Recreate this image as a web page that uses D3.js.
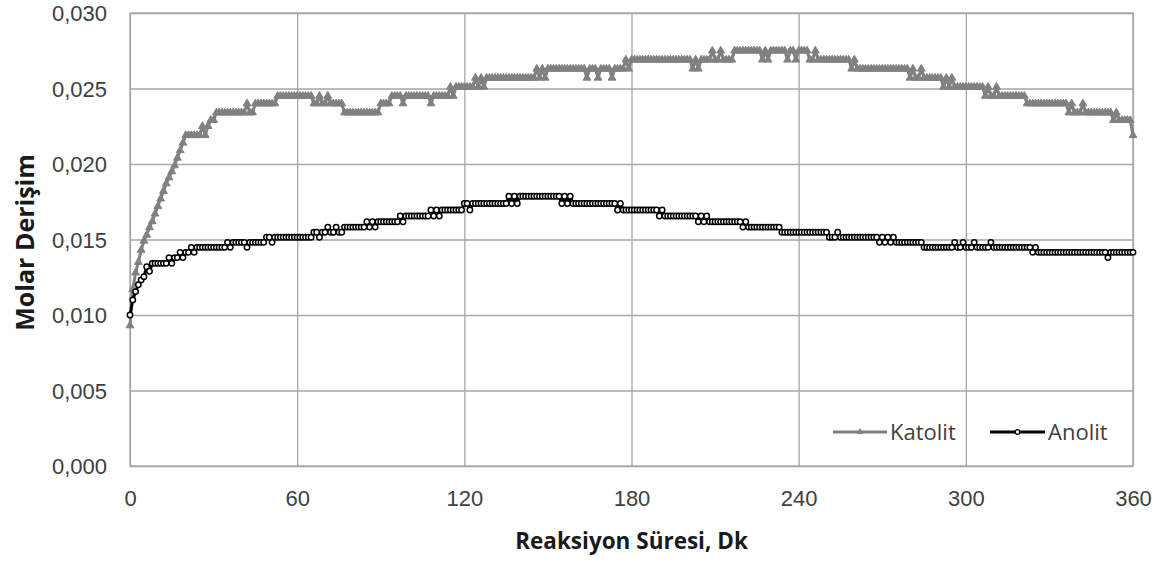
<!DOCTYPE html>
<html>
<head>
<meta charset="utf-8">
<script src="https://cdn.jsdelivr.net/npm/d3@7"></script>
<style>
  body { margin: 0; background: #fff; }
  svg text { font-family: 'Open Sans', 'Noto Sans', sans-serif; }
</style>
</head>
<body>
<svg id="chart" width="1174" height="563"></svg>
<script>
// Axis ticks
const xTicks = [0, 60, 120, 180, 240, 300, 360];
const yTicks = [0, 0.005, 0.010, 0.015, 0.020, 0.025, 0.030];

// Molar concentration sampled every minute, 0..360 min
const katolit = [
  0.0093, 0.0117, 0.0128, 0.0135, 0.0143, 0.0149, 0.0153, 0.0158, 0.0162, 0.0167,
  0.0172, 0.0177, 0.0182, 0.0187, 0.0191, 0.0195, 0.0199, 0.0204, 0.0209, 0.0214,
  0.0219, 0.0219, 0.0219, 0.0219, 0.0219, 0.0219, 0.0225, 0.0219, 0.0225, 0.0229,
  0.0229, 0.0234, 0.0234, 0.0234, 0.0234, 0.0234, 0.0234, 0.0234, 0.0234, 0.0234,
  0.0234, 0.0234, 0.0240, 0.0234, 0.0234, 0.0240, 0.0240, 0.0240, 0.0240, 0.0240,
  0.0240, 0.0240, 0.0240, 0.0245, 0.0245, 0.0245, 0.0245, 0.0245, 0.0245, 0.0245,
  0.0245, 0.0245, 0.0245, 0.0245, 0.0245, 0.0245, 0.0240, 0.0240, 0.0245, 0.0240,
  0.0240, 0.0245, 0.0240, 0.0240, 0.0240, 0.0240, 0.0240, 0.0234, 0.0234, 0.0234,
  0.0234, 0.0234, 0.0234, 0.0234, 0.0234, 0.0234, 0.0234, 0.0234, 0.0234, 0.0234,
  0.0240, 0.0240, 0.0240, 0.0240, 0.0245, 0.0245, 0.0245, 0.0245, 0.0240, 0.0245,
  0.0245, 0.0245, 0.0245, 0.0245, 0.0245, 0.0245, 0.0245, 0.0245, 0.0240, 0.0245,
  0.0245, 0.0245, 0.0245, 0.0245, 0.0245, 0.0251, 0.0245, 0.0251, 0.0251, 0.0251,
  0.0251, 0.0251, 0.0251, 0.0251, 0.0257, 0.0251, 0.0257, 0.0251, 0.0257, 0.0257,
  0.0257, 0.0257, 0.0257, 0.0257, 0.0257, 0.0257, 0.0257, 0.0257, 0.0257, 0.0257,
  0.0257, 0.0257, 0.0257, 0.0257, 0.0257, 0.0257, 0.0263, 0.0257, 0.0263, 0.0257,
  0.0263, 0.0263, 0.0263, 0.0263, 0.0263, 0.0263, 0.0263, 0.0263, 0.0263, 0.0263,
  0.0263, 0.0263, 0.0263, 0.0263, 0.0257, 0.0263, 0.0263, 0.0263, 0.0257, 0.0263,
  0.0263, 0.0263, 0.0263, 0.0257, 0.0263, 0.0263, 0.0263, 0.0263, 0.0269, 0.0263,
  0.0269, 0.0269, 0.0269, 0.0269, 0.0269, 0.0269, 0.0269, 0.0269, 0.0269, 0.0269,
  0.0269, 0.0269, 0.0269, 0.0269, 0.0269, 0.0269, 0.0269, 0.0269, 0.0269, 0.0269,
  0.0269, 0.0269, 0.0263, 0.0269, 0.0263, 0.0269, 0.0269, 0.0269, 0.0269, 0.0275,
  0.0269, 0.0269, 0.0275, 0.0269, 0.0269, 0.0269, 0.0269, 0.0275, 0.0275, 0.0275,
  0.0275, 0.0275, 0.0275, 0.0275, 0.0275, 0.0275, 0.0275, 0.0269, 0.0275, 0.0269,
  0.0275, 0.0275, 0.0275, 0.0275, 0.0275, 0.0275, 0.0269, 0.0275, 0.0275, 0.0269,
  0.0275, 0.0275, 0.0275, 0.0275, 0.0269, 0.0269, 0.0275, 0.0269, 0.0269, 0.0269,
  0.0269, 0.0269, 0.0269, 0.0269, 0.0269, 0.0269, 0.0269, 0.0269, 0.0269, 0.0263,
  0.0269, 0.0263, 0.0263, 0.0263, 0.0263, 0.0263, 0.0263, 0.0263, 0.0263, 0.0263,
  0.0263, 0.0263, 0.0263, 0.0263, 0.0263, 0.0263, 0.0263, 0.0263, 0.0263, 0.0263,
  0.0257, 0.0263, 0.0257, 0.0257, 0.0263, 0.0257, 0.0257, 0.0257, 0.0257, 0.0257,
  0.0257, 0.0257, 0.0251, 0.0257, 0.0251, 0.0257, 0.0251, 0.0251, 0.0251, 0.0251,
  0.0251, 0.0251, 0.0251, 0.0251, 0.0251, 0.0251, 0.0251, 0.0245, 0.0251, 0.0245,
  0.0245, 0.0251, 0.0245, 0.0245, 0.0245, 0.0245, 0.0245, 0.0245, 0.0245, 0.0245,
  0.0245, 0.0245, 0.0240, 0.0240, 0.0240, 0.0240, 0.0240, 0.0240, 0.0240, 0.0240,
  0.0240, 0.0240, 0.0240, 0.0240, 0.0240, 0.0240, 0.0240, 0.0234, 0.0240, 0.0234,
  0.0234, 0.0234, 0.0240, 0.0234, 0.0234, 0.0234, 0.0234, 0.0234, 0.0234, 0.0234,
  0.0234, 0.0234, 0.0234, 0.0229, 0.0234, 0.0229, 0.0229, 0.0229, 0.0229, 0.0229,
  0.0219
];

const anolit = [
  0.0100, 0.0110, 0.01155, 0.0120, 0.01232, 0.01254, 0.0132, 0.0129, 0.01342, 0.01342,
  0.01342, 0.01342, 0.01342, 0.01342, 0.0138, 0.01342, 0.0138, 0.0138, 0.01415, 0.0138,
  0.01415, 0.01415, 0.01448, 0.01415, 0.01448, 0.01448, 0.01448, 0.01448, 0.01448, 0.01448,
  0.01448, 0.01448, 0.01448, 0.01448, 0.01448, 0.01481, 0.01448, 0.01481, 0.01481, 0.01481,
  0.01481, 0.01481, 0.01448, 0.01481, 0.01481, 0.01481, 0.01481, 0.01481, 0.01481, 0.01515,
  0.01515, 0.01481, 0.01515, 0.01515, 0.01515, 0.01515, 0.01515, 0.01515, 0.01515, 0.01515,
  0.01515, 0.01515, 0.01515, 0.01515, 0.01515, 0.01515, 0.01548, 0.01548, 0.01515, 0.01548,
  0.01548, 0.01582, 0.01548, 0.01548, 0.01582, 0.01548, 0.01548, 0.01582, 0.01582, 0.01582,
  0.01582, 0.01582, 0.01582, 0.01582, 0.01582, 0.01618, 0.01582, 0.01618, 0.01582, 0.01618,
  0.01618, 0.01618, 0.01618, 0.01618, 0.01618, 0.01618, 0.01618, 0.01656, 0.01618, 0.01656,
  0.01656, 0.01656, 0.01656, 0.01656, 0.01656, 0.01656, 0.01656, 0.01656, 0.01695, 0.01656,
  0.01695, 0.01656, 0.01695, 0.01695, 0.01695, 0.01695, 0.01695, 0.01695, 0.01695, 0.01695,
  0.01738, 0.01738, 0.01695, 0.01738, 0.01738, 0.01738, 0.01738, 0.01738, 0.01738, 0.01738,
  0.01738, 0.01738, 0.01738, 0.01738, 0.01738, 0.01738, 0.01786, 0.01738, 0.01786, 0.01738,
  0.01786, 0.01786, 0.01786, 0.01786, 0.01786, 0.01786, 0.01786, 0.01786, 0.01786, 0.01786,
  0.01786, 0.01786, 0.01786, 0.01786, 0.01786, 0.01738, 0.01786, 0.01738, 0.01786, 0.01738,
  0.01738, 0.01738, 0.01738, 0.01738, 0.01738, 0.01738, 0.01738, 0.01738, 0.01738, 0.01738,
  0.01738, 0.01738, 0.01738, 0.01738, 0.01738, 0.01695, 0.01738, 0.01695, 0.01695, 0.01695,
  0.01695, 0.01695, 0.01695, 0.01695, 0.01695, 0.01695, 0.01695, 0.01695, 0.01695, 0.01695,
  0.01656, 0.01695, 0.01656, 0.01656, 0.01656, 0.01656, 0.01656, 0.01656, 0.01656, 0.01656,
  0.01656, 0.01656, 0.01656, 0.01656, 0.01618, 0.01656, 0.01618, 0.01656, 0.01618, 0.01618,
  0.01618, 0.01618, 0.01618, 0.01618, 0.01618, 0.01618, 0.01618, 0.01618, 0.01618, 0.01618,
  0.01582, 0.01618, 0.01582, 0.01582, 0.01582, 0.01582, 0.01582, 0.01582, 0.01582, 0.01582,
  0.01582, 0.01582, 0.01582, 0.01582, 0.01548, 0.01548, 0.01548, 0.01548, 0.01548, 0.01548,
  0.01548, 0.01548, 0.01548, 0.01548, 0.01548, 0.01548, 0.01548, 0.01548, 0.01548, 0.01548,
  0.01548, 0.01515, 0.01515, 0.01515, 0.01548, 0.01515, 0.01515, 0.01515, 0.01515, 0.01515,
  0.01515, 0.01515, 0.01515, 0.01515, 0.01515, 0.01515, 0.01515, 0.01515, 0.01515, 0.01481,
  0.01515, 0.01481, 0.01515, 0.01481, 0.01515, 0.01481, 0.01481, 0.01481, 0.01481, 0.01481,
  0.01481, 0.01481, 0.01481, 0.01481, 0.01481, 0.01448, 0.01448, 0.01448, 0.01448, 0.01448,
  0.01448, 0.01448, 0.01448, 0.01448, 0.01448, 0.01448, 0.01481, 0.01448, 0.01448, 0.01481,
  0.01448, 0.01448, 0.01448, 0.01481, 0.01448, 0.01448, 0.01448, 0.01448, 0.01448, 0.01481,
  0.01448, 0.01448, 0.01448, 0.01448, 0.01448, 0.01448, 0.01448, 0.01448, 0.01448, 0.01448,
  0.01448, 0.01448, 0.01448, 0.01448, 0.01415, 0.01448, 0.01415, 0.01415, 0.01415, 0.01415,
  0.01415, 0.01415, 0.01415, 0.01415, 0.01415, 0.01415, 0.01415, 0.01415, 0.01415, 0.01415,
  0.01415, 0.01415, 0.01415, 0.01415, 0.01415, 0.01415, 0.01415, 0.01415, 0.01415, 0.01415,
  0.01415, 0.0138, 0.01415, 0.01415, 0.01415, 0.01415, 0.01415, 0.01415, 0.01415, 0.01415,
  0.01415
];

const seriesNames = ["Katolit", "Anolit"];
const xTitle = "Reaksiyon Süresi, Dk";
const yTitle = "Molar Derişim";

const plot = { left: 130, right: 1133, top: 13, bottom: 466 };
const svg = d3.select("#chart");

const x = d3.scaleLinear().domain([0, 360]).range([plot.left, plot.right]);
const y = d3.scaleLinear().domain([0, 0.03]).range([plot.bottom, plot.top]);

const trLocale = d3.formatLocale({ decimal: ",", thousands: ".", grouping: [3], currency: ["", ""] });
const fmtY = trLocale.format(".3f");

const gridColor = "#a6a6a6";
const tickColor = "#404040";
const tickFont = "'Liberation Sans', Arial, sans-serif";

// Vertical gridlines + x tick labels
const gx = svg.append("g")
  .attr("transform", `translate(0,${plot.bottom})`)
  .call(d3.axisBottom(x).tickValues(xTicks).tickSize(-(plot.bottom - plot.top)).tickPadding(24).tickFormat(d3.format("d")));
gx.select(".domain").remove();
gx.selectAll("line").attr("stroke", gridColor).attr("stroke-width", 1.3);
gx.selectAll("text").attr("fill", tickColor)
  .style("font-family", tickFont).style("font-size", "22px");

// Horizontal gridlines + y tick labels
const gy = svg.append("g")
  .attr("transform", `translate(${plot.left},0)`)
  .call(d3.axisLeft(y).tickValues(yTicks).tickSize(-(plot.right - plot.left)).tickPadding(23).tickFormat(fmtY));
gy.select(".domain").remove();
gy.selectAll("line").attr("stroke", gridColor).attr("stroke-width", 1.3);
gy.selectAll("text").attr("fill", tickColor)
  .style("font-family", tickFont).style("font-size", "22px").attr("dy", "0.36em");

// Plot frame
svg.append("rect")
  .attr("x", plot.left).attr("y", plot.top)
  .attr("width", plot.right - plot.left).attr("height", plot.bottom - plot.top)
  .attr("fill", "none").attr("stroke", gridColor).attr("stroke-width", 1.3);

const line = d3.line().x((d, i) => x(i)).y(d => y(d));

// Katolit: grey line with triangle markers
svg.append("path").datum(katolit)
  .attr("d", line).attr("fill", "none")
  .attr("stroke", "#808080").attr("stroke-width", 3).attr("stroke-linejoin", "round");
const tri = d3.symbol().type(d3.symbolTriangle).size(26)();
svg.append("g").selectAll("path").data(katolit).join("path")
  .attr("d", tri)
  .attr("transform", (d, i) => `translate(${x(i)},${y(d)})`)
  .attr("fill", "#808080").attr("stroke", "#808080").attr("stroke-width", 1);

// Anolit: black line with hollow circle markers
svg.append("path").datum(anolit)
  .attr("d", line).attr("fill", "none")
  .attr("stroke", "#000").attr("stroke-width", 3).attr("stroke-linejoin", "round");
svg.append("g").selectAll("circle").data(anolit).join("circle")
  .attr("cx", (d, i) => x(i)).attr("cy", d => y(d)).attr("r", 2.7)
  .attr("fill", "#fff").attr("stroke", "#000").attr("stroke-width", 1.5);

// Axis titles
svg.append("text")
  .attr("x", (plot.left + plot.right) / 2).attr("y", 549)
  .attr("text-anchor", "middle")
  .style("font-size", "22.5px").style("font-weight", "bold").attr("fill", "#1a1a1a")
  .text(xTitle);
svg.append("text")
  .attr("transform", `translate(34,${(plot.top + plot.bottom) / 2 + 3}) rotate(-90)`)
  .attr("text-anchor", "middle")
  .style("font-size", "25px").style("font-weight", "bold").attr("fill", "#1a1a1a")
  .text(yTitle);

// Legend
const legend = svg.append("g");
const legendItems = [
  { name: seriesNames[0], x0: 833, x1: 887, tx: 890, color: "#808080", marker: "tri" },
  { name: seriesNames[1], x0: 990, x1: 1045, tx: 1048, color: "#000", marker: "circle" }
];
const ly = 432;
legendItems.forEach(it => {
  legend.append("line")
    .attr("x1", it.x0).attr("x2", it.x1).attr("y1", ly).attr("y2", ly)
    .attr("stroke", it.color).attr("stroke-width", 3);
  const mx = (it.x0 + it.x1) / 2;
  if (it.marker === "tri") {
    legend.append("path").attr("d", d3.symbol().type(d3.symbolTriangle).size(14)())
      .attr("transform", `translate(${mx},${ly})`)
      .attr("fill", it.color).attr("stroke", it.color).attr("stroke-width", 0.8);
  } else {
    legend.append("circle").attr("cx", mx).attr("cy", ly).attr("r", 2.3)
      .attr("fill", "#fff").attr("stroke", it.color).attr("stroke-width", 1.2);
  }
  legend.append("text")
    .attr("x", it.tx).attr("y", ly + 8)
    .style("font-size", "22px").attr("fill", tickColor)
    .text(it.name);
});
</script>
</body>
</html>
